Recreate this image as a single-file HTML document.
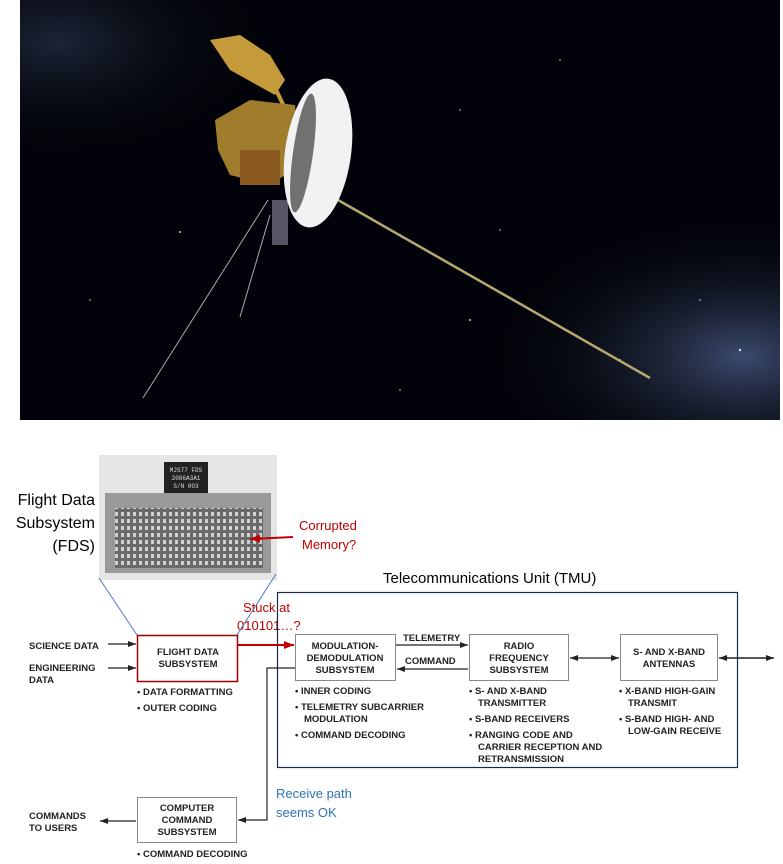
<!DOCTYPE html>
<html><head><meta charset="utf-8"><style>
body{margin:0;background:#fff;width:783px;height:864px;overflow:hidden;font-family:"Liberation Sans",sans-serif}
</style></head><body>
<svg width="783" height="864" xmlns="http://www.w3.org/2000/svg" style="position:absolute;left:0;top:0">
<defs>
<radialGradient id="neb" cx="0.95" cy="0.85" r="0.35"><stop offset="0" stop-color="#3b4a6e"/><stop offset="1" stop-color="#000" stop-opacity="0"/></radialGradient>
<radialGradient id="neb2" cx="0.05" cy="0.1" r="0.3"><stop offset="0" stop-color="#1c2538"/><stop offset="1" stop-color="#000" stop-opacity="0"/></radialGradient>
<linearGradient id="card" x1="0" y1="0" x2="0" y2="1"><stop offset="0" stop-color="#d8d8d8"/><stop offset="1" stop-color="#c8c8c8"/></linearGradient>
<pattern id="chips" width="6" height="7" patternUnits="userSpaceOnUse"><rect width="6" height="7" fill="#6a6a6a"/><rect x="1" y="1" width="3" height="4" fill="#d0d0d0"/></pattern>
<marker id="ah" markerWidth="8" markerHeight="6" refX="8" refY="3" orient="auto" markerUnits="userSpaceOnUse"><path d="M0,0 L8,3 L0,6z" fill="#222"/></marker>
<marker id="ahs" markerWidth="8" markerHeight="6" refX="0" refY="3" orient="auto" markerUnits="userSpaceOnUse"><path d="M8,0 L0,3 L8,6z" fill="#222"/></marker>
<marker id="ar" markerWidth="10" markerHeight="8" refX="10" refY="4" orient="auto" markerUnits="userSpaceOnUse"><path d="M0,0 L10,4 L0,8z" fill="#c00000"/></marker>
</defs>
<!-- space photo -->
<rect x="20" y="0" width="760" height="420" fill="#02030a"/>
<rect x="20" y="0" width="760" height="420" fill="url(#neb)"/>
<rect x="20" y="0" width="760" height="420" fill="url(#neb2)"/>
<g fill="#fff" opacity="0.8">
<circle cx="180" cy="232" r="1"/><circle cx="460" cy="110" r="0.8"/><circle cx="500" cy="230" r="0.8"/><circle cx="470" cy="320" r="1"/><circle cx="620" cy="360" r="1"/><circle cx="700" cy="300" r="0.8"/><circle cx="560" cy="60" r="0.8"/><circle cx="740" cy="350" r="1.2"/><circle cx="90" cy="300" r="0.8"/><circle cx="400" cy="390" r="0.8"/>
</g>
<!-- boom -->
<line x1="338" y1="200" x2="650" y2="378" stroke="#b8a870" stroke-width="2.5"/>
<!-- antennas -->
<line x1="268" y1="200" x2="143" y2="398" stroke="#aaa" stroke-width="1"/>
<line x1="270" y1="215" x2="240" y2="317" stroke="#aaa" stroke-width="1"/>
<!-- science boom -->
<path d="M210 40 L240 35 L270 55 L285 80 L275 95 L230 70z" fill="#c59a3a"/>
<line x1="262" y1="60" x2="288" y2="115" stroke="#c59a3a" stroke-width="4"/>
<!-- bus -->
<path d="M215 120 L250 100 L295 105 L300 165 L270 185 L230 175 L218 150z" fill="#a07d2c"/>
<rect x="240" y="150" width="40" height="35" fill="#8a5a20"/>
<rect x="272" y="200" width="16" height="45" fill="#556"/>
<!-- dish -->
<ellipse cx="318" cy="153" rx="33" ry="75" fill="#f2f2f4" transform="rotate(8 318 153)"/>
<ellipse cx="303" cy="153" rx="10" ry="60" fill="#1a1a1a" transform="rotate(8 303 153)" opacity="0.6"/>
<!-- FDS photo -->
<rect x="99" y="455" width="178" height="125" fill="#e6e6e6"/>
<rect x="164" y="462" width="44" height="33" fill="#222"/>
<text x="186" y="472" font-size="6" fill="#ddd" text-anchor="middle" font-family="Liberation Mono">MJS77 FDS</text>
<text x="186" y="480" font-size="6" fill="#ddd" text-anchor="middle" font-family="Liberation Mono">2006A3A1</text>
<text x="186" y="488" font-size="6" fill="#ddd" text-anchor="middle" font-family="Liberation Mono">S/N 003</text>
<rect x="105" y="493" width="166" height="80" fill="#9a9a9a"/>
<rect x="115" y="508" width="148" height="60" fill="url(#chips)"/>
<!-- fds labels -->
<g font-size="16" fill="#000" text-anchor="end">
<text x="95" y="505">Flight Data</text><text x="95" y="528">Subsystem</text><text x="95" y="551">(FDS)</text></g>
<g font-size="13" fill="#c00000"><text x="299" y="530">Corrupted</text><text x="302" y="549">Memory?</text>
<text x="243" y="612">Stuck at</text><text x="237" y="630">010101…?</text></g>
<line x1="293" y1="537" x2="250" y2="539" stroke="#c00000" stroke-width="2" marker-end="url(#ar)"/>
<line x1="99" y1="578" x2="137" y2="635" stroke="#4a7ac8" stroke-width="1"/>
<line x1="276" y1="574" x2="237" y2="635" stroke="#4a7ac8" stroke-width="1"/>
<!-- TMU -->
<text x="383" y="583" font-size="15" fill="#000">Telecommunications Unit (TMU)</text>
<rect x="277.5" y="592.5" width="460" height="175" fill="none" stroke="#1a2a44" stroke-width="1.2"/>
<!-- boxes -->
<rect x="137.5" y="635.5" width="100" height="46" fill="#fff" stroke="#a00000" stroke-width="1.5"/>
<rect x="295.5" y="634.5" width="100" height="46" fill="#fff" stroke="#888"/>
<rect x="469.5" y="634.5" width="99" height="46" fill="#fff" stroke="#888"/>
<rect x="620.5" y="634.5" width="97" height="46" fill="#fff" stroke="#888"/>
<rect x="137.5" y="797.5" width="99" height="45" fill="#fff" stroke="#888"/>
<g font-size="9.5" font-weight="bold" fill="#222" text-anchor="middle">
<text x="188" y="655">FLIGHT DATA</text><text x="188" y="667">SUBSYSTEM</text>
<text x="345" y="649">MODULATION-</text><text x="345" y="661">DEMODULATION</text><text x="345" y="673">SUBSYSTEM</text>
<text x="519" y="649">RADIO</text><text x="519" y="661">FREQUENCY</text><text x="519" y="673">SUBSYSTEM</text>
<text x="669" y="655">S- AND X-BAND</text><text x="669" y="667">ANTENNAS</text>
<text x="187" y="811">COMPUTER</text><text x="187" y="823">COMMAND</text><text x="187" y="835">SUBSYSTEM</text>
</g>
<g font-size="9.5" font-weight="bold" fill="#222">
<text x="29" y="649">SCIENCE DATA</text><text x="29" y="671">ENGINEERING</text><text x="29" y="683">DATA</text>
<text x="29" y="819">COMMANDS</text><text x="29" y="831">TO USERS</text>
<text x="137" y="695">• DATA FORMATTING</text><text x="137" y="711">• OUTER CODING</text>
<text x="295" y="694">• INNER CODING</text><text x="295" y="710">• TELEMETRY SUBCARRIER</text><text x="304" y="722">MODULATION</text><text x="295" y="738">• COMMAND DECODING</text>
<text x="403" y="641">TELEMETRY</text><text x="405" y="664">COMMAND</text>
<text x="469" y="694">• S- AND X-BAND</text><text x="478" y="706">TRANSMITTER</text><text x="469" y="722">• S-BAND RECEIVERS</text><text x="469" y="738">• RANGING CODE AND</text><text x="478" y="750">CARRIER RECEPTION AND</text><text x="478" y="762">RETRANSMISSION</text>
<text x="619" y="694">• X-BAND HIGH-GAIN</text><text x="628" y="706">TRANSMIT</text><text x="619" y="722">• S-BAND HIGH- AND</text><text x="628" y="734">LOW-GAIN RECEIVE</text>
<text x="137" y="857">• COMMAND DECODING</text>
</g>
<!-- connectors -->
<g stroke="#222" stroke-width="1.2" fill="none">
<line x1="108" y1="644" x2="136" y2="644" marker-end="url(#ah)"/>
<line x1="108" y1="668" x2="136" y2="668" marker-end="url(#ah)"/>
<line x1="396" y1="645" x2="468" y2="645" marker-end="url(#ah)"/>
<line x1="468" y1="669" x2="397" y2="669" marker-end="url(#ah)"/>
<line x1="570" y1="658" x2="619" y2="658" marker-end="url(#ah)" marker-start="url(#ahs)"/>
<line x1="719" y1="658" x2="774" y2="658" marker-end="url(#ah)" marker-start="url(#ahs)" stroke-width="1.6"/>
<path d="M295 668 H267 V820 H238" marker-end="url(#ah)"/>
<line x1="136" y1="821" x2="100" y2="821" marker-end="url(#ah)"/>
</g>
<line x1="238" y1="645" x2="294" y2="645" stroke="#c00000" stroke-width="2" marker-end="url(#ar)"/>
<g font-size="13" fill="#2e75b6"><text x="276" y="798">Receive path</text><text x="276" y="817">seems OK</text></g>
</svg>
</body></html>
